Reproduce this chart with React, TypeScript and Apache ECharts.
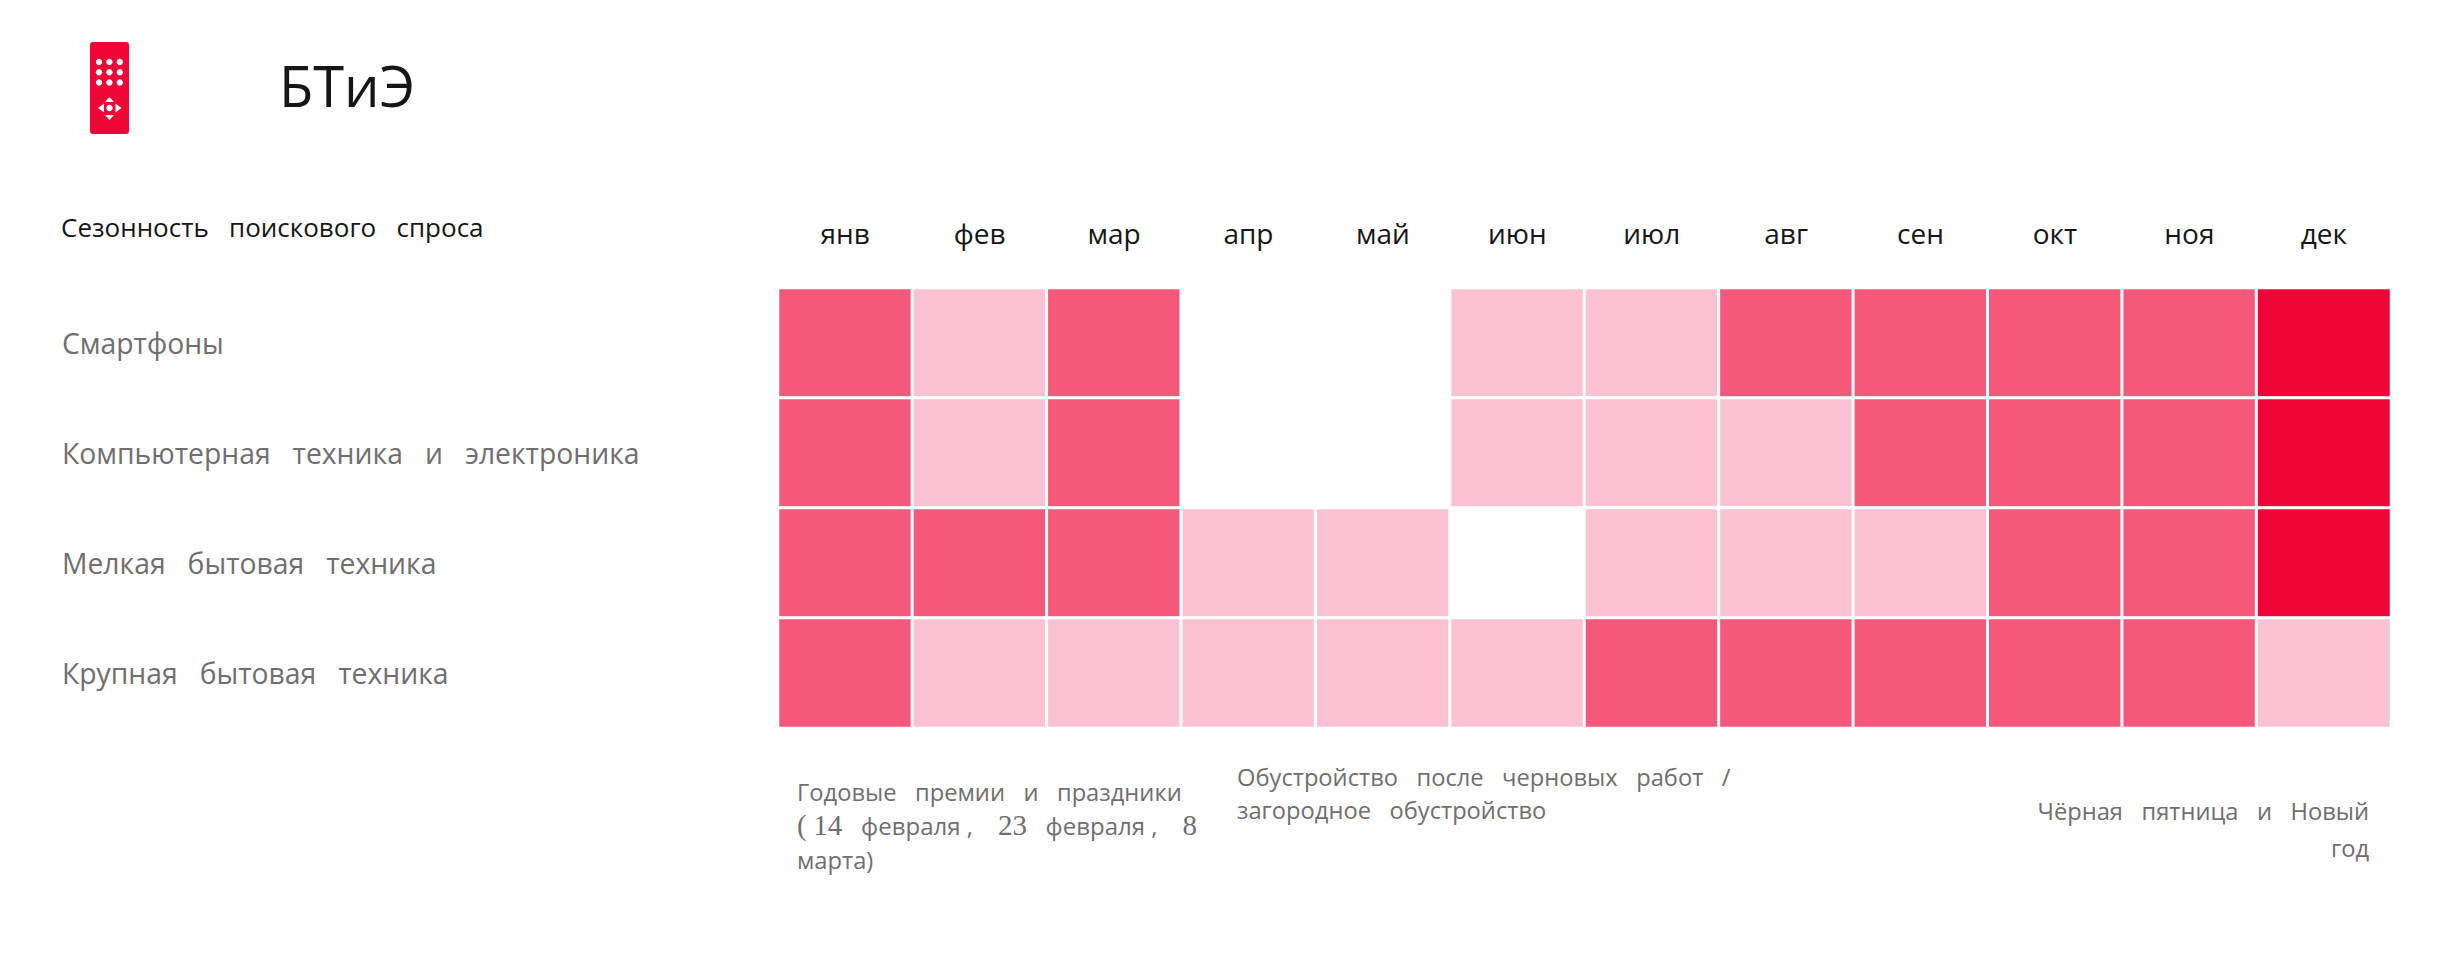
import React, { useEffect, useRef } from "react";
import * as echarts from "echarts";

const months = ["янв", "фев", "мар", "апр", "май", "июн", "июл", "авг", "сен", "окт", "ноя", "дек"];
const categories = ["Смартфоны", "Компьютерная   техника   и   электроника", "Мелкая   бытовая   техника", "Крупная   бытовая   техника"];
const smartphones = [2, 1, 2, 0, 0, 1, 1, 2, 2, 2, 2, 3];
const computers = [2, 1, 2, 0, 0, 1, 1, 1, 2, 2, 2, 3];
const smallAppliances = [2, 2, 2, 1, 1, 0, 1, 1, 1, 2, 2, 3];
const largeAppliances = [2, 1, 1, 1, 1, 1, 2, 2, 2, 2, 2, 1];
const rows = [smartphones, computers, smallAppliances, largeAppliances];
const levelColors = ["#ffffff", "#fbc3d1", "#f4587a", "#f00537"];

const FONT = "'Open Sans'";
const GREY = "#706e6e";
const BLACK = "#161616";
const NOTE_FONT = `23.7px ${FONT}`;

export default function App() {
  const ref = useRef<HTMLDivElement>(null);
  useEffect(() => {
    const chart = echarts.init(ref.current!, null, { renderer: "svg" });
    const data: number[][] = [];
    rows.forEach((r, y) => r.forEach((v, x) => data.push([x, y, v])));

    const dots: any[] = [];
    [0, 1, 2].forEach((r) =>
      [0, 1, 2].forEach((c) =>
        dots.push({ type: "circle", shape: { cx: 99 + c * 10.4, cy: 62 + r * 10.3, r: 3.2 }, style: { fill: "#fff" } })
      )
    );
    const tri = (pts: number[][]) => ({ type: "polygon", shape: { points: pts }, style: { fill: "#fff" } });
    const note = (x: number, y: number, text: string, textAlign = "left") => ({
      type: "text",
      x,
      y,
      style: { text, fill: GREY, font: NOTE_FONT, textAlign, textVerticalAlign: "middle" },
    });

    chart.setOption({
      animation: false,
      backgroundColor: "#ffffff",
      grid: { left: 778, right: 54, top: 288, bottom: 238 },
      xAxis: {
        type: "category",
        position: "top",
        data: months,
        axisLine: { show: false },
        axisTick: { show: false },
        splitLine: { show: false },
        axisLabel: { color: BLACK, fontFamily: FONT, fontSize: 28, margin: 41 },
      },
      yAxis: {
        type: "category",
        inverse: true,
        data: categories,
        axisLine: { show: false },
        axisTick: { show: false },
        splitLine: { show: false },
        axisLabel: { color: GREY, fontFamily: FONT, fontSize: 28.3, align: "left", margin: 716, padding: [6, 0, 0, 0] },
      },
      visualMap: {
        show: false,
        type: "piecewise",
        dimension: 2,
        pieces: levelColors.map((color, i) => ({ value: i, color })),
      },
      series: [
        {
          type: "heatmap",
          data,
          itemStyle: { borderColor: "#ffffff", borderWidth: 3 },
          emphasis: { disabled: true },
        },
      ],
      graphic: [
        { type: "rect", shape: { x: 90, y: 42, width: 39, height: 92, r: 3 }, style: { fill: "#f00537" } },
        ...dots,
        { type: "circle", shape: { cx: 109.5, cy: 108, r: 3.2 }, style: { fill: "#fff" } },
        tri([[109.5, 97], [105, 102], [114, 102]]),
        tri([[109.5, 120], [105, 115], [114, 115]]),
        tri([[98, 108], [104, 103.5], [104, 112.5]]),
        tri([[121.5, 108], [115.5, 103.5], [115.5, 112.5]]),
        {
          type: "text",
          x: 279,
          y: 85,
          style: { text: "БТиЭ", fill: BLACK, font: `56px ${FONT}`, textVerticalAlign: "middle" },
        },
        {
          type: "text",
          x: 61,
          y: 227,
          style: { text: "Сезонность   поискового   спроса", fill: BLACK, font: `26px ${FONT}`, textVerticalAlign: "middle" },
        },
        note(797, 792, "Годовые   премии   и   праздники"),
        {
          type: "text",
          x: 797,
          y: 825,
          style: {
            text: "{s|(}  {s|14}{o|   февраля ,    }{s|23}{o|   февраля ,    }{s|8}",
            rich: {
              s: { fontFamily: "'Liberation Serif'", fontSize: 29, fill: GREY, color: GREY },
              o: { fontFamily: FONT, fontSize: 24, fill: GREY, color: GREY },
            },
            textVerticalAlign: "middle",
          },
        },
        note(797, 860, "марта)"),
        note(1237, 777, "Обустройство   после   черновых   работ   /"),
        note(1237, 810, "загородное   обустройство"),
        note(2369, 811, "Чёрная   пятница   и   Новый", "right"),
        note(2369, 848, "год", "right"),
      ],
    });
    return () => chart.dispose();
  }, []);
  return <div ref={ref} style={{ position: "absolute", left: 0, top: 0, width: 2445, height: 966 }} />;
}
